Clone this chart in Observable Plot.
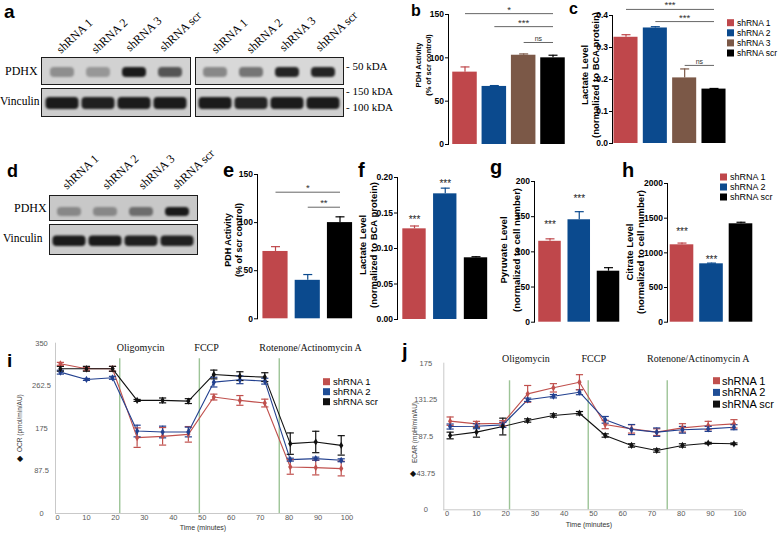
<!DOCTYPE html>
<html><head><meta charset="utf-8">
<script src="https://cdn.jsdelivr.net/npm/d3@7"></script>
<script src="https://cdn.jsdelivr.net/npm/@observablehq/plot@0.6"></script>
<style>
html,body{margin:0;padding:0;background:#fff;}
#fig{position:relative;width:778px;height:533px;overflow:hidden;background:#fff;}
#fig > svg, #fig > div{position:absolute;left:0;top:0;}
</style></head><body><div id="fig"></div>
<script>
// ---------------- data ----------------
const cats4 = ["shRNA 1", "shRNA 2", "shRNA 3", "shRNA scr"];
const cats3 = ["shRNA 1", "shRNA 2", "shRNA scr"];
const barColors4 = ["#bf474b", "#0b4a8e", "#7b5847", "#000000"];
const barColors3 = ["#bf474b", "#0b4a8e", "#000000"];

// panel b: PDH activity (% of scr control)
const pdhB = [83.5, 67, 103, 100];
const pdhBErr = [6, 1, 1.5, 3];
const sigB = [
  {from: "shRNA 1", to: "shRNA scr", y: 151, label: "*"},
  {from: "shRNA 2", to: "shRNA scr", y: 136, label: "***"},
  {from: "shRNA 3", to: "shRNA scr", y: 117.7, label: "ns"}
];
// panel c: lactate level
const lacC = [0.332, 0.361, 0.205, 0.170];
const lacCErr = [0.008, 0.004, 0.028, 0.002];
const sigC = [
  {from: "shRNA 1", to: "shRNA scr", y: 0.419, label: "***"},
  {from: "shRNA 2", to: "shRNA scr", y: 0.381, label: "***"},
  {from: "shRNA 3", to: "shRNA scr", y: 0.244, label: "ns"}
];
// panel e: PDH activity
const pdhE = [70, 40, 100];
const pdhEErr = [5, 6, 6];
const sigE = [
  {from: "shRNA 1", to: "shRNA scr", y: 131.6, label: "*"},
  {from: "shRNA 2", to: "shRNA scr", y: 116, label: "**"}
];
// panel f: lactate level
const lacF = [0.1277, 0.177, 0.0869];
const lacFErr = [0.004, 0.008, 0.0015];
const starsF = [{cat: "shRNA 1", y: 0.141, label: "***"}, {cat: "shRNA 2", y: 0.191, label: "***"}];
// panel g: pyruvate level
const pyrG = [115, 145.6, 72.5];
const pyrGErr = [3.5, 11.5, 5];
const starsG = [{cat: "shRNA 1", y: 139, label: "***"}, {cat: "shRNA 2", y: 176, label: "***"}];
// panel h: citrate level
const citH = [1116, 842, 1419];
const citHErr = [25, 10, 22];
const starsH = [{cat: "shRNA 1", y: 1300, label: "***"}, {cat: "shRNA 2", y: 905, label: "***"}];

// panels i / j: Seahorse time course
const lineSeries = ["shRNA 1", "shRNA 2", "shRNA scr"];
const lineColors = ["#c0504d", "#22408f", "#111111"];
const times = [1, 10, 19, 27.5, 36.3, 45.2, 54, 63, 71.6, 80.4, 89.2, 98];
const ocr1 = [307.6, 297.4, 297.4, 155.9, 158.6, 162.7, 239.3, 232.4, 227, 95.7, 94.3, 92.3];
const ocr1Err = [3, 3, 5, 20, 18, 16, 6, 10, 8, 15, 15, 15];
const ocr2 = [290.5, 275.5, 278.9, 169.5, 167.5, 167.5, 270, 274.8, 272, 110.7, 112.8, 109.4];
const ocr2Err = [4, 2, 3, 12, 12, 10, 10, 8, 6, 3, 3, 3];
const ocrScr = [297.4, 297.4, 297.4, 232.4, 232.4, 231, 285.7, 282.3, 280.3, 143.6, 147, 140];
const ocrScrErr = [5, 5, 5, 2, 5, 5, 9, 9, 9, 22, 22, 20];
const ecar1 = [105.8, 102.6, 103.4, 138.4, 145.6, 152.3, 101.8, 96.6, 92.7, 97.8, 100.6, 102.6];
const ecar1Err = [5, 3, 3, 10, 5, 9, 5, 5, 4, 5, 5, 5];
const ecar2 = [99.4, 99.8, 101.4, 131.3, 135.6, 140.4, 107.4, 95.8, 92.7, 95.5, 96.6, 98.6];
const ecar2Err = [3, 3, 3, 2, 2, 3, 4, 6, 5, 4, 3, 3];
const ecarScr = [88.7, 92.7, 99.4, 106.6, 112.6, 115.3, 88.7, 76.8, 70.8, 76.8, 79.5, 78.8];
const ecarScrErr = [4, 6, 10, 2, 2, 2, 2, 2, 2, 2, 1, 1];
const injections = ["Oligomycin", "FCCP", "Rotenone/Actinomycin A"];
const injTimesI = [21.5, 49, 76.6];
const injLabelTimesI = [28.7, 51.5, 87.4];
const injTimesJ = [21.3, 48.2, 75.2];
const injLabelTimesJ = [26.9, 50.1, 85.8];
const ocrTicks = [0, 87.5, 175, 262.5, 350];
const ecarTicks = [0, 43.75, 87.5, 131.25, 175];
const timeTicks = [0, 10, 20, 30, 40, 50, 60, 70, 80, 90, 100];

// western blot band intensities (0..1)
const blotLanes = ["shRNA 1", "shRNA 2", "shRNA 3", "shRNA scr"];
const aLeftPDHX = [0.35, 0.3, 0.95, 0.65];
const aLeftVinc = [0.95, 0.92, 0.95, 0.95];
const aRightPDHX = [0.4, 0.5, 0.9, 0.9];
const aRightVinc = [0.95, 0.9, 0.95, 0.95];
const dPDHX = [0.35, 0.35, 0.5, 0.95];
const dVinc = [0.95, 0.95, 0.92, 0.92];

// ---------------- helpers ----------------
const SANS = "Liberation Sans, Arial, Helvetica, sans-serif";
const SERIF = "Liberation Serif, Times New Roman, serif";
const fig = document.getElementById("fig");
const W = 778, H = 533;
const hbar = {draw(ctx, size) { const w = Math.sqrt(size / Math.PI) * 1.8; ctx.moveTo(-w, 0); ctx.lineTo(w, 0); }};

function barPanel(o) {
  const n = o.cats.length;
  const data = o.cats.map((c, i) => ({cat: c, i, v: o.values[i], e: o.errs[i]}));
  const idx = c => o.cats.indexOf(c);
  const sig = (o.sig || []).map(s => ({x1: idx(s.from), x2: idx(s.to), y: s.y, label: s.label}));
  const stars = (o.stars || []).map(s => ({i: idx(s.cat), y: s.y, label: s.label}));
  const hw = o.hw;
  const p = Plot.plot({
    width: W, height: H,
    marginLeft: o.axisX, marginRight: W - o.xRange[1] - 20,
    marginTop: o.yPix[1], marginBottom: H - o.yPix[0],
    x: {domain: [0, n - 1], range: o.xRange, axis: null},
    y: {domain: o.yDomain},
    color: {domain: o.cats, range: o.colors},
    style: {background: "transparent", fontFamily: SANS, overflow: "visible"},
    marks: [
      Plot.rect(data, {x1: d => d.i - hw, x2: d => d.i + hw, y1: 0, y2: "v", fill: "cat"}),
      Plot.ruleX(data, {x: "i", y1: "v", y2: d => d.v + d.e, stroke: "cat", strokeWidth: 1.2}),
      Plot.dot(data, {x: "i", y: d => d.v + d.e, symbol: hbar, r: 2.5, stroke: "cat", fill: "none", strokeWidth: 1.2}),
      Plot.link(sig, {x1: "x1", x2: "x2", y1: "y", y2: "y", stroke: "#555", strokeWidth: 0.9}),
      Plot.text(sig, {x: d => (d.x1 + d.x2) / 2, y: "y", text: "label", lineAnchor: "bottom", dy: -1,
        fontSize: d => d.label === "ns" ? 7 : 9.5, fill: "#333"}),
      Plot.text(stars, {x: "i", y: "y", text: "label", fontSize: 10, fill: "#222"}),
      Plot.axisY({ticks: o.ticks, tickSize: 3, tickPadding: 1.5, tickFormat: o.fmt, fontWeight: "bold", fontSize: 8.5, label: null}),
      Plot.frame({anchor: "left", strokeWidth: 1})
    ]
  });
  fig.appendChild(p);
}

function linePanel(o) {
  const rows = [];
  lineSeries.forEach((s, k) => times.forEach((t, j) => rows.push({s, t, v: o.vals[k][j], e: o.errs[k][j]})));
  const inj = injections.map((name, k) => ({name, t: o.injTimes[k], lt: o.labelTimes[k]}));
  const p = Plot.plot({
    width: W, height: H,
    marginLeft: o.axisX, marginRight: W - o.right, marginTop: o.top, marginBottom: H - o.bottom,
    x: {domain: [0, 100], range: o.xRange},
    y: {domain: [0, o.ymax]},
    color: {domain: lineSeries, range: lineColors},
    style: {background: "transparent", fontFamily: SANS, overflow: "visible"},
    marks: [
      Plot.frame({anchor: "left", stroke: "#c9c9c9"}),
      Plot.frame({anchor: "bottom", stroke: "#c9c9c9"}),
      Plot.ruleX(inj, {x: "t", y1: 0, y2: o.injTop, stroke: "#9dc497", strokeWidth: 1.4}),
      Plot.text(inj, {x: "lt", y: o.labelY, text: "name", fontFamily: SERIF, fontSize: 10, lineAnchor: "bottom", fill: "#111"}),
      Plot.line(rows, {x: "t", y: "v", z: "s", stroke: "s", strokeWidth: 1.1}),
      Plot.ruleX(rows, {x: "t", y1: d => d.v - d.e, y2: d => d.v + d.e, stroke: "s", strokeWidth: 1.2}),
      Plot.dot(rows, {x: "t", y: d => d.v + d.e, symbol: hbar, r: 2, stroke: "s", fill: "none", strokeWidth: 1.2}),
      Plot.dot(rows, {x: "t", y: d => d.v - d.e, symbol: hbar, r: 2, stroke: "s", fill: "none", strokeWidth: 1.2}),
      Plot.dot(rows, {x: "t", y: "v", symbol: "diamond", r: 2.2, fill: "s", stroke: "none"}),
      Plot.axisX({ticks: timeTicks, tickSize: 0, tickPadding: 1, fontSize: 7.5, fill: "#5a5a5a", stroke: "#5a5a5a", label: null}),
      Plot.axisY({ticks: o.yticks, tickSize: 0, tickPadding: o.tickPad, textAnchor: "middle",
        tickFormat: d => String(d), fontSize: 7.5, fill: "#5a5a5a", stroke: "#5a5a5a", label: null})
    ]
  });
  fig.appendChild(p);
}

function blot(box, vals, ins, bg) {
  const [x0, y0, x1, y1] = box;
  const div = document.createElement("div");
  Object.assign(div.style, {left: x0 + "px", top: y0 + "px", width: (x1 - x0) + "px", height: (y1 - y0) + "px",
    boxSizing: "border-box", border: "1.5px solid #1c1c1c", background: bg, overflow: "hidden"});
  const data = blotLanes.map((l, i) => ({lane: l, v: vals[i]}));
  const p = Plot.plot({
    width: x1 - x0 - 3, height: y1 - y0 - 3, margin: 0,
    x: {domain: blotLanes, padding: 0, axis: null},
    opacity: {type: "identity"},
    style: {background: "transparent", filter: "blur(1.3px)", display: "block"},
    marks: [Plot.cell(data, {x: "lane", fill: "#111", fillOpacity: "v",
      insetTop: ins[0], insetBottom: ins[1], insetLeft: ins[2], insetRight: ins[3], rx: 4})]
  });
  div.appendChild(p);
  fig.appendChild(div);
}

// ---------------- blots ----------------
blot([41, 57, 191, 85], aLeftPDHX, [9, 6, 6, 6], "#d2d2d2");
blot([41, 88, 191, 117], aLeftVinc, [8, 6, 1.5, 1.5], "#cdcdcd");
blot([195, 57, 344, 85], aRightPDHX, [9, 6, 6, 6], "#d8d8d8");
blot([195, 88, 344, 117], aRightVinc, [8, 6, 1.5, 1.5], "#d0d0d0");
blot([49, 195, 198, 221], dPDHX, [11, 3, 6, 6], "#c8c8c8");
blot([49, 224, 198, 255], dVinc, [10.5, 7, 1.5, 1.5], "#cbcbcb");

// ---------------- bar panels ----------------
barPanel({cats: cats4, values: pdhB, errs: pdhBErr, colors: barColors4, sig: sigB, hw: 0.418,
  axisX: 448, xRange: [464.5, 552.5], yPix: [144, 14], yDomain: [0, 150], ticks: [0, 50, 100, 150], fmt: d => String(d)});
barPanel({cats: cats4, values: lacC, errs: lacCErr, colors: barColors4, sig: sigC, hw: 0.41,
  axisX: 612, xRange: [625.5, 713.5], yPix: [143, 15], yDomain: [0, 0.4], ticks: [0, 0.1, 0.2, 0.3, 0.4], fmt: d3.format(".1f")});
barPanel({cats: cats3, values: pdhE, errs: pdhEErr, colors: barColors3, sig: sigE, hw: 0.39,
  axisX: 257, xRange: [275, 339.5], yPix: [318.3, 174], yDomain: [0, 150], ticks: [0, 50, 100, 150], fmt: d => String(d)});
barPanel({cats: cats3, values: lacF, errs: lacFErr, colors: barColors3, stars: starsF, hw: 0.38,
  axisX: 397, xRange: [414, 475.5], yPix: [319, 177], yDomain: [0, 0.2], ticks: [0, 0.05, 0.1, 0.15, 0.2], fmt: d3.format(".2f")});
barPanel({cats: cats3, values: pyrG, errs: pyrGErr, colors: barColors3, stars: starsG, hw: 0.385,
  axisX: 534, xRange: [549.5, 608], yPix: [321.7, 181], yDomain: [0, 200], ticks: [0, 50, 100, 150, 200], fmt: d => String(d)});
barPanel({cats: cats3, values: citH, errs: citHErr, colors: barColors3, stars: starsH, hw: 0.4,
  axisX: 667, xRange: [681.5, 740.5], yPix: [321.7, 183], yDomain: [0, 2000], ticks: [0, 500, 1000, 1500, 2000], fmt: d => String(d)});

// ---------------- line panels ----------------
linePanel({vals: [ocr1, ocr2, ocrScr], errs: [ocr1Err, ocr2Err, ocrScrErr], ymax: 350, yticks: ocrTicks,
  axisX: 55, right: 350, top: 342.7, bottom: 513, xRange: [57, 346.5], tickPad: 14,
  injTimes: injTimesI, labelTimes: injLabelTimesI, injTop: 318, labelY: 333.6});
linePanel({vals: [ecar1, ecar2, ecarScr], errs: [ecar1Err, ecar2Err, ecarScrErr], ymax: 175, yticks: ecarTicks,
  axisX: 443.3, right: 742, top: 362.7, bottom: 509.3, xRange: [446.7, 739.3], tickPad: 18,
  injTimes: injTimesJ, labelTimes: injLabelTimesJ, injTop: 154, labelY: 176.2});

// ---------------- text overlay ----------------
const ov = d3.select(fig).append("svg").attr("width", W).attr("height", H)
  .style("position", "absolute").style("left", 0).style("top", 0);
function T(str, x, y, o = {}) {
  const t = ov.append("text").attr("x", x).attr("y", y).text(str)
    .attr("font-family", o.family || SANS).attr("font-size", o.size || 10)
    .attr("font-weight", o.weight || "normal").attr("fill", o.color || "#000")
    .attr("text-anchor", o.anchor || "start");
  if (o.rotate) t.attr("transform", `rotate(${o.rotate},${x},${y})`);
  return t;
}
// panel letters
[["a", 4, 18, 19], ["b", 411, 16, 16], ["c", 569, 14, 16], ["d", 7, 176.7, 18], ["e", 223, 177, 20],
 ["f", 358, 176.7, 20], ["g", 490, 173.5, 20], ["h", 622, 176.7, 20], ["i", 7, 366.7, 19], ["j", 402, 358, 20]]
  .forEach(([s, x, y, z]) => T(s, x, y, {size: z, weight: "bold"}));

// blot labels
T("PDHX", 5, 75, {family: SERIF, size: 12});
T("Vinculin", 0, 105, {family: SERIF, size: 11.5});
T("PDHX", 14, 212, {family: SERIF, size: 12});
T("Vinculin", 3, 242, {family: SERIF, size: 11.5});
T("- 50 kDA", 346, 70, {family: SERIF, size: 11});
T("- 150 kDA", 346, 95, {family: SERIF, size: 11});
T("- 100 kDA", 346, 111, {family: SERIF, size: 11});
const laneA = [[61, 54], [96, 54], [130, 52], [164, 52], [216, 54], [251, 54], [284, 52], [320, 52]];
laneA.forEach(([x, y], k) => T(blotLanes[k % 4], x, y, {family: SERIF, size: 12, rotate: -43}));
const laneD = [[67, 190], [107, 190], [143, 190], [177, 190]];
laneD.forEach(([x, y], k) => T(blotLanes[k], x, y, {family: SERIF, size: 12, rotate: -43}));

// y-axis titles of bar panels
[["PDH Activity", "(% of scr control)", 421, 431, 65, 7.5],
 ["Lactate Level", "(normalized to BCA protein)", 588, 598.5, 75, 9.5],
 ["PDH Activity", "(% of scr control)", 231, 241.5, 240, 9],
 ["Lactate Level", "(normalized to BCA protein)", 366, 377, 245, 9.5],
 ["Pyruvate Level", "(normalized to cell number)", 507, 520, 250, 9.5],
 ["Citrate Level", "(normalized to cell number)", 633, 644, 252, 9.5]]
  .forEach(([l1, l2, x1, x2, cy, z]) => {
    T(l1, x1, cy, {size: z, weight: "bold", anchor: "middle", rotate: -90});
    T(l2, x2, cy, {size: z, weight: "bold", anchor: "middle", rotate: -90});
  });

// line panel titles
T("OCR (pmol/min/AU)", 22, 452, {size: 6.5, color: "#444", rotate: -90});
T("\u25C6", 20, 461, {size: 8, anchor: "middle", color: "#111"});
T("ECAR (mpH/min/AU)", 417, 463, {size: 6.5, color: "#444", rotate: -90});
T("\u25C6", 413, 476, {size: 8, anchor: "middle", color: "#111"});
T("Time (minutes)", 203, 529.5, {size: 7, color: "#333", anchor: "middle"});
T("Time (minutes)", 589, 527, {size: 7, color: "#333", anchor: "middle"});

// legends
function legend(x, yc, dy, sq, fs, tx, names, cols) {
  names.forEach((nm, k) => {
    ov.append("rect").attr("x", x).attr("y", yc + k * dy - sq / 2).attr("width", sq).attr("height", sq).attr("fill", cols[k]);
    T(nm, tx, yc + k * dy + fs * 0.35, {size: fs});
  });
}
legend(727, 22.7, 10.1, 7, 8.5, 737, cats4, barColors4);
legend(720, 177, 10, 7, 9, 730, cats3, barColors3);
legend(323, 381.7, 10, 7, 9.5, 333, lineSeries, ["#c0504d", "#1f4e96", "#111111"]);
legend(713, 380.7, 11.7, 7, 11, 722, lineSeries, ["#c0504d", "#1f4e96", "#111111"]);
</script></body></html>
